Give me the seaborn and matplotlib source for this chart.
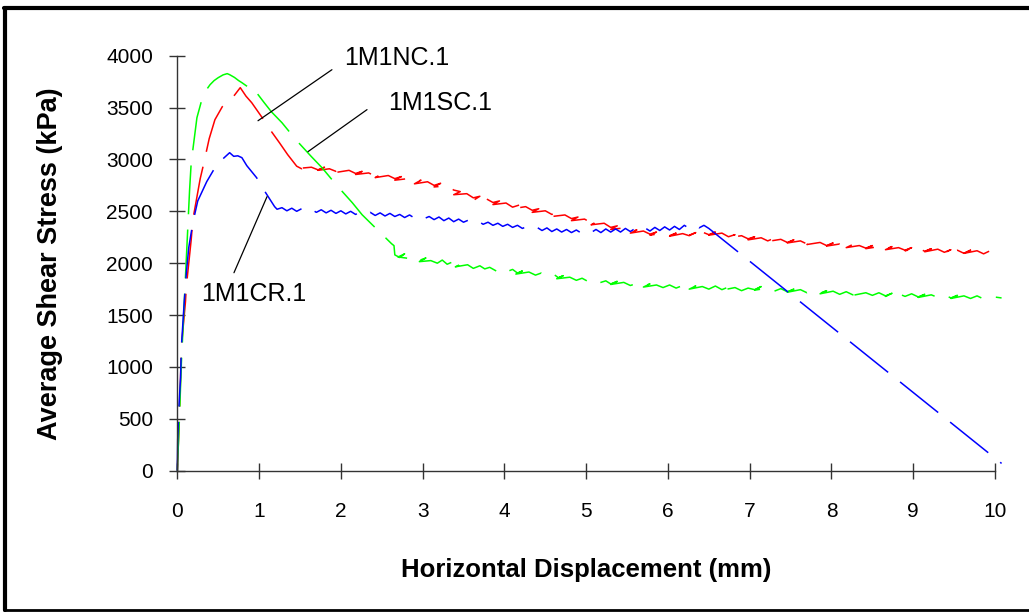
import matplotlib
matplotlib.use("Agg")
import matplotlib.pyplot as plt
from matplotlib.lines import Line2D
import seaborn as sns
import pandas as pd

# ---------------- data ----------------
series_names = ["1M1NC.1", "1M1SC.1", "1M1CR.1"]
series_colors = ["#FF0000", "#00FF00", "#0000FF"]

nc_x = [0, 0.02, 0.04, 0.05, 0.08, 0.10, 0.11, 0.17, 0.19, 0.28, 0.32, 0.39, 0.46, 0.55, 0.62,
        0.70, 0.77, 0.84, 0.91, 1.03, 1.15, 1.25, 1.35,
        1.46, 1.52, 1.58, 1.50, 1.64, 1.72, 1.80, 1.72, 1.86, 1.94, 2.02, 1.94, 2.10, 2.18,
        2.26, 2.18, 2.34, 2.42, 2.50, 2.42, 2.58, 2.66, 2.74, 2.66, 2.82, 2.90, 2.98, 2.90,
        3.06, 3.14, 3.22, 3.14, 3.30, 3.38, 3.46, 3.38, 3.54, 3.62, 3.70, 3.62, 3.78, 3.86,
        3.94, 3.86, 4.02, 4.10, 4.18, 4.10, 4.26, 4.34, 4.42, 4.34, 4.50, 4.58, 4.66, 4.58,
        4.74, 4.82, 4.90, 4.82, 4.98, 5.06, 5.14, 5.06, 5.22, 5.30, 5.38, 5.30, 5.46, 5.54,
        5.62, 5.54, 5.70, 5.78, 5.86, 5.78, 5.94, 6.02, 6.10, 6.02, 6.18, 6.26, 6.34, 6.26,
        6.42, 6.50, 6.58, 6.50, 6.66, 6.74, 6.82, 6.74, 6.90, 6.98, 7.06, 6.98, 7.14, 7.22,
        7.30, 7.22, 7.38, 7.46, 7.54, 7.46, 7.62, 7.70, 7.78, 7.70, 7.86, 7.94, 8.02, 7.94,
        8.10, 8.18, 8.26, 8.18, 8.34, 8.42, 8.50, 8.42, 8.58, 8.66, 8.74, 8.66, 8.82, 8.90,
        8.98, 8.90, 9.06, 9.14, 9.22, 9.14, 9.30, 9.38, 9.46, 9.38, 9.54, 9.62, 9.70, 9.62,
        9.78, 9.86, 9.94, 10.08]
nc_y = [0, 400, 900, 1195, 1450, 1629, 1773, 2226, 2419, 2814, 2949, 3200, 3383, 3508, 3560,
        3620, 3692, 3610, 3547, 3412, 3270, 3160, 3046,
        2935, 2910, 2940, 2915, 2925, 2900, 2925, 2895, 2910, 2885, 2905, 2875, 2895, 2865,
        2885, 2855, 2870, 2840, 2860, 2825, 2845, 2815, 2835, 2800, 2815, 2780, 2800, 2765,
        2785, 2750, 2770, 2735, 2745, 2705, 2690, 2660, 2670, 2630, 2645, 2605, 2620, 2585,
        2600, 2565, 2580, 2540, 2560, 2525, 2545, 2510, 2525, 2490, 2505, 2470, 2490, 2450,
        2465, 2430, 2445, 2410, 2425, 2390, 2405, 2370, 2385, 2345, 2360, 2325, 2340, 2305,
        2320, 2290, 2310, 2280, 2300, 2270, 2290, 2265, 2290, 2260, 2285, 2265, 2295, 2270,
        2300, 2275, 2300, 2270, 2290, 2255, 2275, 2245, 2265, 2235, 2255, 2225, 2245, 2215,
        2240, 2210, 2230, 2200, 2225, 2195, 2215, 2185, 2210, 2180, 2200, 2170, 2195, 2165,
        2185, 2155, 2180, 2150, 2170, 2145, 2170, 2140, 2160, 2135, 2160, 2130, 2150, 2125,
        2150, 2120, 2145, 2115, 2140, 2110, 2135, 2105, 2130, 2100, 2125, 2095, 2125, 2095,
        2120, 2090, 2120, 2105]

sc_x = [0, 0.01, 0.024, 0.05, 0.085, 0.12, 0.15, 0.17, 0.19, 0.24, 0.29, 0.34, 0.40, 0.45,
        0.50, 0.56, 0.61, 0.64, 0.70, 0.75, 0.79, 0.86, 0.88, 0.90, 0.92, 0.97, 1.06, 1.15,
        1.28, 1.45, 1.64, 1.77, 1.95, 2.14, 2.26, 2.45, 2.62, 2.65,
        2.66, 2.72, 2.78, 2.70, 2.84, 2.92, 2.97, 3.04, 2.96, 3.10, 3.18, 3.24, 3.30, 3.36,
        3.42, 3.48, 3.40, 3.55, 3.62, 3.70, 3.76, 3.82, 3.90, 3.96, 4.02, 4.10, 4.16, 4.22,
        4.14, 4.30, 4.38, 4.45, 4.52, 4.60, 4.66, 4.72, 4.64, 4.80, 4.88, 4.95, 5.02, 5.10,
        5.16, 5.24, 5.30, 5.38, 5.30, 5.46, 5.54, 5.62, 5.70, 5.78, 5.70, 5.86, 5.94, 6.02,
        6.10, 6.18, 6.26, 6.34, 6.26, 6.42, 6.50, 6.58, 6.66, 6.74, 6.66, 6.82, 6.90, 6.98,
        7.06, 7.14, 7.06, 7.22, 7.30, 7.38, 7.46, 7.54, 7.46, 7.62, 7.70, 7.78, 7.86, 7.94,
        7.86, 8.02, 8.10, 8.18, 8.26, 8.34, 8.26, 8.42, 8.50, 8.58, 8.66, 8.74, 8.66, 8.82,
        8.90, 8.98, 9.06, 9.14, 9.06, 9.22, 9.30, 9.38, 9.46, 9.54, 9.46, 9.62, 9.70, 9.78,
        9.86, 9.94, 10.08]
sc_y = [0, 200, 463, 1041, 1629, 2226, 2700, 2969, 3094, 3402, 3547, 3653, 3720, 3760,
        3788, 3815, 3827, 3817, 3790, 3760, 3740, 3701, 3690, 3675, 3690, 3643, 3550, 3460,
        3354, 3190, 3027, 2920, 2750, 2583, 2467, 2320, 2188, 2169,
        2080, 2055, 2090, 2060, 2045, 2070, 2030, 2050, 2015, 2025, 2000, 2030, 1990, 2010,
        1975, 1995, 1965, 1985, 1950, 1975, 1945, 1960, 1925, 1950, 1915, 1940, 1905, 1925,
        1895, 1915, 1885, 1905, 1870, 1895, 1860, 1880, 1850, 1865, 1835, 1855, 1825, 1845,
        1810, 1830, 1800, 1825, 1795, 1815, 1785, 1805, 1780, 1800, 1770, 1790, 1765, 1790,
        1760, 1785, 1755, 1780, 1750, 1775, 1750, 1780, 1745, 1770, 1740, 1765, 1735, 1760,
        1745, 1775, 1740, 1760, 1730, 1755, 1725, 1750, 1720, 1745, 1715, 1740, 1710, 1735,
        1705, 1730, 1700, 1725, 1695, 1720, 1690, 1715, 1690, 1715, 1685, 1710, 1680, 1705,
        1680, 1705, 1675, 1700, 1670, 1695, 1670, 1695, 1665, 1690, 1660, 1685, 1660, 1685,
        1655, 1680, 1665]

cr_x = [0, 0.005, 0.02, 0.04, 0.05, 0.085, 0.11, 0.14, 0.19, 0.25, 0.36, 0.46, 0.55, 0.64,
        0.69, 0.74, 0.79, 0.85, 0.97, 1.08, 1.19,
        1.22, 1.28, 1.34, 1.40, 1.46, 1.52, 1.58, 1.64, 1.70, 1.76, 1.82, 1.88, 1.94, 2.00,
        2.06, 2.12, 2.18, 2.24, 2.30, 2.36, 2.42, 2.48, 2.54, 2.60, 2.66, 2.72, 2.78, 2.84,
        2.90, 2.96, 3.02, 3.08, 3.14, 3.20, 3.26, 3.32, 3.38, 3.44, 3.50, 3.56, 3.62, 3.68,
        3.74, 3.80, 3.86, 3.92, 3.98, 4.04, 4.10, 4.16, 4.22, 4.28, 4.34, 4.40, 4.46, 4.52,
        4.58, 4.64, 4.70, 4.76, 4.82, 4.88, 4.94, 5.00, 5.06, 5.12, 5.18, 5.24, 5.30, 5.36,
        5.42, 5.48, 5.54, 5.60, 5.66, 5.72, 5.78, 5.84, 5.90, 5.96, 6.02, 6.08, 6.14, 6.20,
        6.26, 6.32, 6.38, 6.44, 6.50, 10.08]
cr_y = [0, 300, 617, 900, 1195, 1629, 1900, 2150, 2390, 2600, 2786, 2920, 3000, 3065,
        3030, 3035, 3017, 2940, 2824, 2680, 2545,
        2520, 2535, 2505, 2530, 2500, 2525, 2495, 2520, 2490, 2515, 2485, 2510, 2480, 2505,
        2475, 2500, 2470, 2495, 2465, 2490, 2460, 2485, 2455, 2480, 2450, 2470, 2440, 2465,
        2435, 2460, 2430, 2450, 2420, 2445, 2410, 2435, 2400, 2425, 2395, 2415, 2385, 2405,
        2375, 2395, 2365, 2385, 2355, 2375, 2345, 2365, 2335, 2355, 2325, 2345, 2315, 2340,
        2305, 2330, 2300, 2325, 2295, 2320, 2290, 2320, 2295, 2325, 2295, 2330, 2300, 2330,
        2300, 2335, 2305, 2335, 2305, 2340, 2310, 2345, 2315, 2350, 2320, 2355, 2325, 2365,
        2335, 2370, 2340, 2365, 2335, 70]

series_x = [nc_x, sc_x, cr_x]
series_y = [nc_y, sc_y, cr_y]

x_ticks = [0, 1, 2, 3, 4, 5, 6, 7, 8, 9, 10]
y_ticks = [0, 500, 1000, 1500, 2000, 2500, 3000, 3500, 4000]
x_label = "Horizontal Displacement (mm)"
y_label = "Average Shear Stress (kPa)"

# annotation: text centre and leader line (start at curve, end at text)
ann_text = ["1M1NC.1", "1M1SC.1", "1M1CR.1"]
ann_text_xy = [(2.687, 3981), (3.21, 3545), (0.938, 1706)]
ann_line_from = [(0.987, 3373), (1.598, 3075), (1.097, 2641)]
ann_line_to = [(1.891, 3865), (2.32, 3480), (0.693, 1908)]

# ---------------- style ----------------
sns.set_theme(style="white")
plt.rcParams["font.family"] = ["Liberation Sans", "DejaVu Sans"]

fig = plt.figure(figsize=(10.29, 6.14), dpi=100)
fig.patch.set_facecolor("white")
ax = fig.add_axes([0.1723, 0.2334, 0.7947, 0.6759])
ax.set_facecolor("white")

for name, color, xs, ys in zip(series_names, series_colors, series_x, series_y):
    df = pd.DataFrame({"x": xs, "y": ys})
    sns.lineplot(data=df, x="x", y="y", sort=False, estimator=None, color=color,
                 linewidth=1.1, ax=ax, legend=False)
    ln = ax.lines[-1]
    ln.set_dashes([32, 10])
    ln.set_clip_on(False)

for txt, txy, p0, p1 in zip(ann_text, ann_text_xy, ann_line_from, ann_line_to):
    ax.plot([p0[0], p1[0]], [p0[1], p1[1]], color="black", linewidth=0.9, clip_on=False)
    ax.text(txy[0], txy[1], txt, ha="center", va="center", fontsize=18, color="black")

ax.set_xlim(0, 10)
ax.set_ylim(0, 4000)
ax.set_xticks(x_ticks)
ax.set_yticks(y_ticks)
ax.set_xticklabels([str(v) for v in x_ticks])
ax.set_yticklabels([str(v) for v in y_ticks])

for side in ["top", "right"]:
    ax.spines[side].set_visible(False)
for side in ["left", "bottom"]:
    ax.spines[side].set_color("#333333")
    ax.spines[side].set_linewidth(1.0)

ax.tick_params(axis="both", which="major", bottom=True, left=True, top=False, right=False,
               direction="inout", length=11.5, width=1.0, color="#333333",
               labelsize=15, labelcolor="black")
ax.tick_params(axis="y", pad=11.7)
ax.tick_params(axis="x", pad=17.0)
ax.grid(False)

ax.set_xlabel(x_label, fontsize=18.5, fontweight="bold", color="black")
ax.set_ylabel(y_label, fontsize=19.5, fontweight="bold", color="black")
ax.xaxis.set_label_coords(0.5, -0.21)
ax.yaxis.set_label_coords(-0.14, 0.5)

# outer chart border
W, H = 1029.0, 614.0
fig.add_artist(Line2D([4 / W, 1.02], [1 - 8 / H, 1 - 8 / H], transform=fig.transFigure,
                      color="black", linewidth=3.0))
fig.add_artist(Line2D([5 / W, 5 / W], [1 - 8 / H, 1 - 609.5 / H], transform=fig.transFigure,
                      color="black", linewidth=3.0))
fig.add_artist(Line2D([4 / W, 1.02], [1 - 609.5 / H, 1 - 609.5 / H], transform=fig.transFigure,
                      color="black", linewidth=2.0))

fig.savefig("out.png", dpi=100, facecolor="white")
